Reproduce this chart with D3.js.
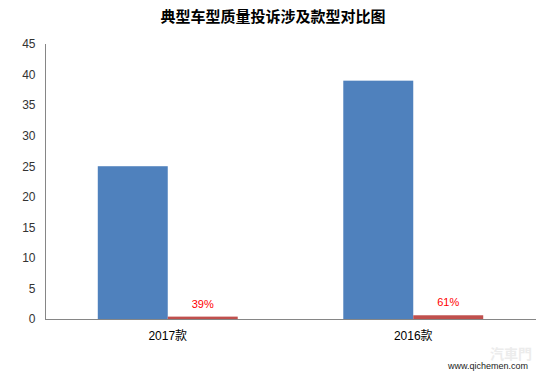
<!DOCTYPE html>
<html>
<head>
<meta charset="utf-8">
<script src="https://cdn.jsdelivr.net/npm/d3@7/dist/d3.min.js"></script>
<style>
  html, body { margin: 0; padding: 0; background: #fff; }
  svg { display: block; }
</style>
</head>
<body>
<svg id="chart" width="546" height="379"></svg>
<script>
const title = "典型车型质量投诉涉及款型对比图";
const categories = ["2017款", "2016款"];
const series = ["count", "share"];
const countValues = [25, 39];
const shareValues = [0.39, 0.61];
const shareLabels = ["39%", "61%"];
const yTicks = [0, 5, 10, 15, 20, 25, 30, 35, 40, 45];
const watermark = "www.qichemen.com";

(function () {
const svg = d3.select("#chart");
const mLeft = 45, mRight = 536, mTop = 44, mBottom = 319;
const font = "'Liberation Sans', Arial, 'Noto Sans CJK SC', sans-serif";

const y = d3.scaleLinear().domain([0, 45]).range([mBottom, mTop]);
const x0 = d3.scaleBand().domain(categories).range([mLeft, mRight]).paddingInner(0.43).paddingOuter(0.215);
const x1 = d3.scaleBand().domain(series).range([0, x0.bandwidth()]);
const colors = { count: "#4F81BD", share: "#C0504D" };

// title
svg.append("text")
  .attr("x", 273).attr("y", 22)
  .attr("text-anchor", "middle")
  .attr("font-family", "'Noto Sans CJK SC', sans-serif")
  .attr("font-weight", "bold")
  .attr("font-size", 15)
  .attr("fill", "#000")
  .text(title);

// bars
const groups = svg.selectAll("g.grp").data(categories).enter().append("g")
  .attr("class", "grp")
  .attr("transform", d => `translate(${x0(d)},0)`);

groups.append("rect")
  .attr("x", x1("count"))
  .attr("width", x1.bandwidth())
  .attr("y", (d, i) => y(countValues[i]))
  .attr("height", (d, i) => mBottom - y(countValues[i]))
  .attr("fill", colors.count);

groups.append("rect")
  .attr("x", x1("share"))
  .attr("width", x1.bandwidth())
  .attr("y", (d, i) => y(shareValues[i]))
  .attr("height", (d, i) => mBottom - y(shareValues[i]))
  .attr("fill", colors.share);

groups.append("text")
  .attr("x", x1("share") + x1.bandwidth() / 2)
  .attr("y", (d, i) => y(shareValues[i]) - 9)
  .attr("text-anchor", "middle")
  .attr("font-family", font)
  .attr("font-size", 11)
  .attr("fill", "#FF0000")
  .text((d, i) => shareLabels[i]);

// y axis
const yAxis = d3.axisLeft(y).tickValues(yTicks).tickSize(0).tickPadding(10);
const gy = svg.append("g").attr("transform", `translate(${mLeft + 0.5},0)`).call(yAxis);
gy.select(".domain").attr("stroke", "#868686").attr("d", `M0,${mTop}V${mBottom}`);
gy.selectAll("text").attr("font-family", font).attr("font-size", 12).attr("fill", "#333");

// x axis
const xAxis = d3.axisBottom(x0).tickSize(0).tickPadding(12);
const gx = svg.append("g").attr("transform", `translate(0,${mBottom + 0.5})`).call(xAxis);
gx.select(".domain").attr("stroke", "#868686").attr("d", `M${mLeft},0H${mRight}`);
gx.selectAll("text").attr("font-family", font).attr("font-size", 12).attr("fill", "#000");

// watermark
svg.append("text")
  .attr("x", 511).attr("y", 359)
  .attr("text-anchor", "middle")
  .attr("font-family", "'Noto Sans CJK TC', sans-serif")
  .attr("font-size", 14).attr("font-weight", "bold")
  .attr("fill", "#ececec")
  .text("汽車門");
svg.append("text")
  .attr("x", 488).attr("y", 369)
  .attr("text-anchor", "middle")
  .attr("font-family", font)
  .attr("font-size", 9)
  .attr("fill", "#222")
  .text(watermark);
})();
</script>
</body>
</html>
